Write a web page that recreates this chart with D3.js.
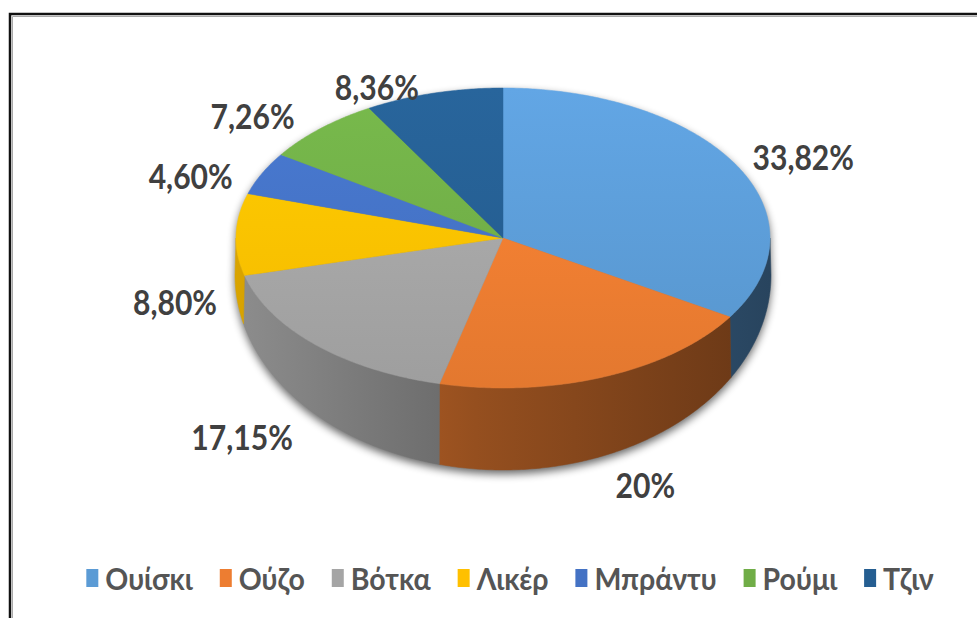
<!DOCTYPE html>
<html lang="el">
<head>
    <meta charset="UTF-8">
    <title>Pie</title>
    <script src="https://cdn.jsdelivr.net/npm/d3@7"></script>
    <style>
        html, body {
            margin: 0;
            padding: 0;
            background: #fff;
        }
        svg {
            display: block;
        }
        .lbl {
            font-family: Lato, "Open Sans", sans-serif;
            font-weight: 700;
            fill: #404040;
        }
        .leg {
            font-family: Lato, "Open Sans", sans-serif;
            font-weight: 700;
            fill: #555;
        }
    </style>
</head>
<body>
<div id="chart"></div>
</body>

<script>

    // data
    const categories = ["Ουίσκι", "Ούζο", "Βότκα", "Λικέρ", "Μπράντυ", "Ρούμι", "Τζιν"];
    const values = [33.82, 20, 17.15, 8.80, 4.60, 7.26, 8.36];
    const valueLabels = ["33,82%", "20%", "17,15%", "8,80%", "4,60%", "7,26%", "8,36%"];
    const colors = ["#5B9BD5", "#ED7D31", "#A5A5A5", "#FFC000", "#4472C4", "#70AD47", "#255E91"];

    // small hand nudges for the excel "best fit" label placement
    const labelShift = [[-3, -3], [11, 44], [-17, 39], [19, 50], [1, 4], [-13, 4], [-36, 22]];

    const width = 977, height = 618;

    // top ellipse + bottom ellipse (perspective makes the bottom one taller)
    const cx = 503, cy = 238, rx = 267, ry = 150;
    const cyb = 275, rxb = 268, ryb = 195;

    // text looks squeezed sideways in the original
    const squeeze = 0.86;

    const svg = d3.select("#chart").append("svg")
        .attr("width", width)
        .attr("height", height);

    const defs = svg.append("defs");

    defs.append("filter")
        .attr("id", "blur")
        .attr("x", "-20%").attr("y", "-20%")
        .attr("width", "140%").attr("height", "140%")
        .append("feGaussianBlur")
        .attr("stdDeviation", 4);

    // frame (runs off the right and bottom)
    svg.append("path")
        .attr("d", `M10,${height} V14 H${width}`)
        .attr("fill", "none")
        .attr("stroke", "#111")
        .attr("stroke-width", 2.5);
    svg.append("path")
        .attr("d", `M12.5,${height} V16.5 H${width}`)
        .attr("fill", "none")
        .attr("stroke", "#aaa")
        .attr("stroke-width", 1);

    const topPt = t => [cx + rx * Math.sin(t), cy - ry * Math.cos(t)];
    const botPt = t => [cx + rxb * Math.sin(t), cyb - ryb * Math.cos(t)];

    const line = d3.line().curve(d3.curveLinear);

    function samples(a0, a1) {
        const n = Math.max(2, Math.ceil(Math.abs(a1 - a0) / 0.01));
        return d3.range(n + 1).map(i => a0 + (a1 - a0) * i / n);
    }

    const pie = d3.pie().sort(null).value(d => d);
    const arcs = pie(values);

    // shadow under the cake
    const shadowPts = samples(Math.PI / 2, 3 * Math.PI / 2).map(botPt)
        .concat(samples(-Math.PI / 2, Math.PI / 2).map(topPt));
    svg.append("path")
        .attr("d", line(shadowPts) + "Z")
        .attr("transform", "translate(0,4)")
        .attr("fill", "#000")
        .attr("opacity", 0.6)
        .attr("filter", "url(#blur)");

    // gradients
    arcs.forEach((a, i) => {
        const base = d3.color(colors[i]);
        const g = defs.append("linearGradient")
            .attr("id", "side" + i)
            .attr("gradientUnits", "userSpaceOnUse")
            .attr("x1", cx - rx).attr("x2", cx + rx)
            .attr("y1", 0).attr("y2", 0);
        g.append("stop").attr("offset", "0%").attr("stop-color", base.darker(0.45));
        g.append("stop").attr("offset", "45%").attr("stop-color", base.darker(1.3));
        g.append("stop").attr("offset", "100%").attr("stop-color", base.darker(2.3));

        const t = defs.append("linearGradient")
            .attr("id", "top" + i)
            .attr("gradientUnits", "userSpaceOnUse")
            .attr("x1", 0).attr("x2", 0)
            .attr("y1", cy - ry).attr("y2", cy + ry);
        t.append("stop").attr("offset", "0%").attr("stop-color", base.brighter(0.2));
        t.append("stop").attr("offset", "100%").attr("stop-color", base.darker(0.12));
    });

    // sides, only the front half shows
    const sides = svg.append("g");
    arcs.forEach((a, i) => {
        const a0 = Math.max(a.startAngle, Math.PI / 2);
        const a1 = Math.min(a.endAngle, 3 * Math.PI / 2);
        if (a1 <= a0) return;
        const pts = samples(a0, a1).map(topPt).concat(samples(a1, a0).map(botPt));
        sides.append("path")
            .attr("d", line(pts) + "Z")
            .attr("fill", `url(#side${i})`)
            .attr("stroke", `url(#side${i})`)
            .attr("stroke-width", 0.5);
    });

    // top faces
    const tops = svg.append("g");
    arcs.forEach((a, i) => {
        const pts = [[cx, cy]].concat(samples(a.startAngle, a.endAngle).map(topPt));
        tops.append("path")
            .attr("d", line(pts) + "Z")
            .attr("fill", `url(#top${i})`)
            .attr("stroke", `url(#top${i})`)
            .attr("stroke-width", 0.5);
    });

    // data labels
    const cym = (cy + cyb) / 2, rym = (ry + ryb) / 2;
    svg.append("g").selectAll("g")
        .data(arcs)
        .join("g")
        .attr("transform", (d, i) => {
            const m = (d.startAngle + d.endAngle) / 2;
            const x = cx + 1.3 * rx * Math.sin(m) + labelShift[i][0];
            const y = cym - 1.15 * rym * Math.cos(m) + labelShift[i][1];
            return `translate(${x},${y}) scale(${squeeze},1)`;
        })
        .append("text")
        .attr("class", "lbl")
        .attr("font-size", 35)
        .attr("text-anchor", "middle")
        .attr("dominant-baseline", "central")
        .text((d, i) => valueLabels[i]);

    // legend
    const legY = 578, sq = 12, sqH = 18, gap = 7, itemGap = 27, legSqueeze = 0.92;
    const leg = svg.append("g");
    const items = leg.selectAll("g")
        .data(categories)
        .join("g");
    items.append("rect")
        .attr("width", sq)
        .attr("height", sqH)
        .attr("y", legY - sqH / 2)
        .attr("fill", (d, i) => colors[i]);
    items.append("text")
        .attr("class", "leg")
        .attr("font-size", 31)
        .attr("transform", `translate(${sq + gap},${legY}) scale(${legSqueeze},1)`)
        .attr("dominant-baseline", "central")
        .text(d => d);

    let xpos = 0;
    items.each(function () {
        const w = sq + gap + legSqueeze * d3.select(this).select("text").node().getComputedTextLength();
        d3.select(this).attr("transform", `translate(${xpos},0)`);
        xpos += w + itemGap;
    });
    const total = xpos - itemGap;
    leg.attr("transform", `translate(${510 - total / 2},0)`);

</script>

</html>
